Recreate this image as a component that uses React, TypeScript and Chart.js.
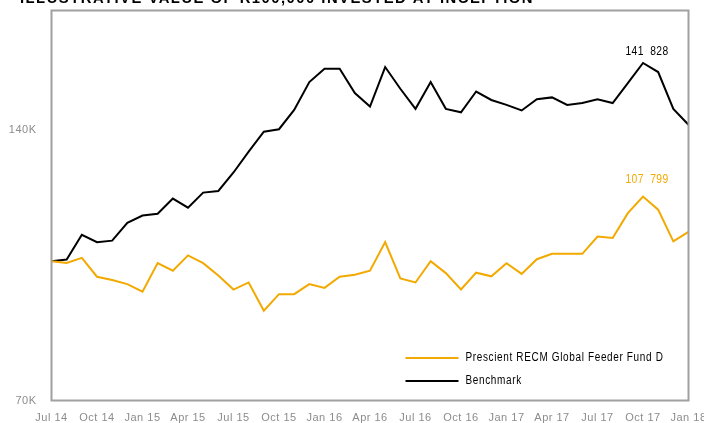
import React, { useEffect, useRef } from 'react';
import { Chart, registerables } from 'chart.js';
Chart.register(...registerables);

const titleText = 'ILLUSTRATIVE VALUE OF R100,000 INVESTED AT INCEPTION';

const months = ['Jul 14','Aug 14','Sep 14','Oct 14','Nov 14','Dec 14','Jan 15','Feb 15','Mar 15','Apr 15','May 15','Jun 15','Jul 15','Aug 15','Sep 15','Oct 15','Nov 15','Dec 15','Jan 16','Feb 16','Mar 16','Apr 16','May 16','Jun 16','Jul 16','Aug 16','Sep 16','Oct 16','Nov 16','Dec 16','Jan 17','Feb 17','Mar 17','Apr 17','May 17','Jun 17','Jul 17','Aug 17','Sep 17','Oct 17','Nov 17','Dec 17','Jan 18'];

// values in R thousands
const fundValues = [100, 99.56, 100.85, 96.1, 95.3, 94.3, 92.5, 99.5, 97.6, 101.5, 99.5, 96.4, 93.0, 94.7, 88.1, 91.9, 91.9, 94.3, 93.4, 96.1, 96.6, 97.6, 105.0, 95.7, 94.7, 100.0, 97.0, 93.0, 97.1, 96.2, 99.5, 96.8, 100.5, 101.9, 101.9, 101.9, 106.5, 106.1, 113.1, 118.0, 114.1, 105.2, 107.799];

const benchmarkValues = [100, 100.41, 107.0, 105.0, 105.4, 110.3, 112.4, 112.9, 117.4, 114.7, 119.2, 119.7, 125.5, 132.4, 139.3, 140.2, 147.3, 158.2, 163.7, 163.7, 153.8, 148.6, 164.4, 155.5, 147.7, 158.2, 147.7, 146.4, 154.4, 151.1, 149.2, 147.1, 151.4, 152.1, 149.2, 149.9, 151.4, 149.9, 157.8, 166.1, 162.3, 147.7, 141.828];

const seriesNames = ['Prescient RECM Global Feeder Fund D', 'Benchmark'];
const yTicks = [70, 140];
const yMin = 70;
const yMax = 190;

const ORANGE = '#F2A900';
const BLACK = '#000000';
const FONT = "'Liberation Sans Narrow', 'Liberation Sans', Arial, sans-serif";

function fmtValue(v: number): string {
  const n = Math.round(v * 1000).toString();
  return n.replace(/\B(?=(\d{3})+(?!\d))/g, ' ');
}

// draw text horizontally condensed by factor sx
function drawNarrow(ctx: any, text: string, x: number, y: number, sx: number, align: 'left' | 'center') {
  const w = ctx.measureText(text).width * sx;
  const left = align === 'center' ? x - w / 2 : x;
  ctx.save();
  ctx.translate(left, y);
  ctx.scale(sx, 1);
  ctx.textAlign = 'left';
  ctx.fillText(text, 0, 0);
  ctx.restore();
}

const decorPlugin = {
  id: 'decor',
  beforeDraw(chart: any) {
    const ctx = chart.ctx;
    ctx.letterSpacing = '0.5px';
    // title
    ctx.save();
    ctx.font = `bold 15px ${FONT}`;
    ctx.fillStyle = '#000';
    ctx.textBaseline = 'alphabetic';
    ctx.letterSpacing = '1.5px';
    const w = ctx.measureText(titleText).width;
    drawNarrow(ctx, titleText, 20, 23, 514 / w, 'left');
    ctx.restore();
  },
  afterDatasetsDraw(chart: any) {
    const ctx = chart.ctx;
    const a = chart.chartArea;
    ctx.save();
    // border
    ctx.strokeStyle = '#a0a0a0';
    ctx.lineWidth = 2;
    ctx.strokeRect(a.left, a.top, a.right - a.left, a.bottom - a.top);

    // peak annotations
    const offsets = [17, 12];
    ctx.font = `13.5px ${FONT}`;
    ctx.letterSpacing = '0.5px';
    const annSx = 43 / ctx.measureText('141  828').width;
    chart.data.datasets.forEach((ds: any, di: number) => {
      const meta = chart.getDatasetMeta(di);
      let mi = 0;
      ds.data.forEach((v: number, i: number) => { if (v > ds.data[mi]) mi = i; });
      const pt = meta.data[mi];
      const last = ds.data[ds.data.length - 1];
      ctx.fillStyle = ds.borderColor;
      ctx.textBaseline = 'middle';
      drawNarrow(ctx, fmtValue(last).replace(' ', '  '), pt.x + 4, pt.y - offsets[di], annSx, 'center');
    });

    // legend
    const lx1 = a.left + 354;
    const lx2 = a.left + 407;
    const tx = a.left + 414;
    const ys = [a.top + 347.5, a.top + 370.5];
    ctx.font = `12.5px ${FONT}`;
    ctx.letterSpacing = '0.8px';
    const legSx = 198 / ctx.measureText(seriesNames[0]).width;
    chart.data.datasets.forEach((ds: any, di: number) => {
      ctx.strokeStyle = ds.borderColor;
      ctx.lineWidth = 2;
      ctx.beginPath();
      ctx.moveTo(lx1, ys[di]);
      ctx.lineTo(lx2, ys[di]);
      ctx.stroke();
      ctx.fillStyle = '#000';
      ctx.textBaseline = 'middle';
      drawNarrow(ctx, ds.label, tx, ys[di], legSx, 'left');
    });
    ctx.restore();
  },
};

export default function App() {
  const ref = useRef<HTMLCanvasElement | null>(null);
  useEffect(() => {
    if (!ref.current) return;
    const chart = new Chart(ref.current, {
      type: 'line',
      data: {
        labels: months,
        datasets: [
          { label: seriesNames[0], data: fundValues, borderColor: ORANGE, borderWidth: 2, pointRadius: 0, tension: 0, fill: false },
          { label: seriesNames[1], data: benchmarkValues, borderColor: BLACK, borderWidth: 2, pointRadius: 0, tension: 0, fill: false },
        ],
      },
      options: {
        animation: false,
        responsive: false,
        maintainAspectRatio: false,
        layout: { padding: { top: 30.5, right: 15.5, left: 0, bottom: 0 } },
        plugins: { legend: { display: false }, tooltip: { enabled: false }, title: { display: false } },
        scales: {
          x: {
            type: 'category',
            offset: false,
            grid: { display: false, drawTicks: false },
            border: { display: false },
            ticks: {
              autoSkip: false,
              maxRotation: 0,
              minRotation: 0,
              padding: 11,
              color: '#8c8c8c',
              font: { family: FONT, size: 11 },
              callback: (_v: any, i: number) => (i % 3 === 0 ? months[i] : ''),
            },
            afterFit: (s: any) => { s.height = 22.5; s.paddingLeft = 0; s.paddingRight = 0; },
          },
          y: {
            type: 'logarithmic',
            min: yMin,
            max: yMax,
            grid: { display: false, drawTicks: false },
            border: { display: false },
            afterBuildTicks: (s: any) => { s.ticks = yTicks.map((v) => ({ value: v })); },
            ticks: {
              padding: 15,
              color: '#8c8c8c',
              font: { family: FONT, size: 11 },
              callback: (v: any) => `${v}K`,
            },
            afterFit: (s: any) => { s.width = 51.5; },
          },
        },
      },
      plugins: [decorPlugin],
    });
    return () => chart.destroy();
  }, []);
  return (
    <div style={{ position: 'absolute', left: 0, top: -20, width: 704, height: 443 }}>
      <canvas ref={ref} width={704} height={443} style={{ width: 704, height: 443, display: 'block' }} />
    </div>
  );
}
